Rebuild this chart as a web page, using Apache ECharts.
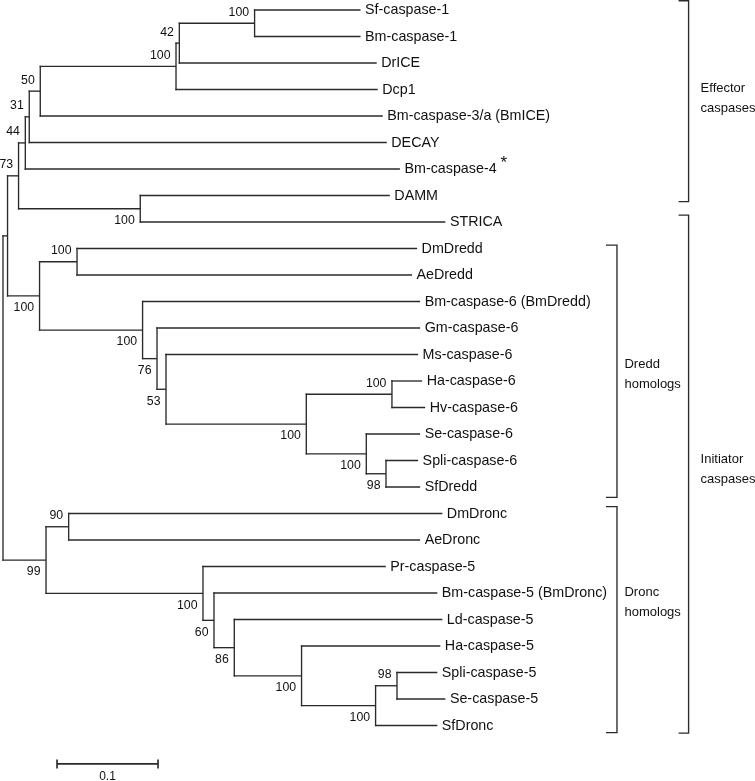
<!DOCTYPE html>
<html><head><meta charset="utf-8">
<script src="https://cdn.jsdelivr.net/npm/echarts@6/dist/echarts.min.js"></script>
<style>html,body{margin:0;padding:0;background:#fff}#c{width:755px;height:781px}</style>
</head><body><div id="c"></div>
<script>
// ---------------- data ----------------
const leafNames = ['Sf-caspase-1','Bm-caspase-1','DrICE','Dcp1','Bm-caspase-3/a (BmICE)','DECAY','Bm-caspase-4','DAMM','STRICA',
  'DmDredd','AeDredd','Bm-caspase-6 (BmDredd)','Gm-caspase-6','Ms-caspase-6','Ha-caspase-6','Hv-caspase-6','Se-caspase-6',
  'Spli-caspase-6','SfDredd','DmDronc','AeDronc','Pr-caspase-5','Bm-caspase-5 (BmDronc)','Ld-caspase-5','Ha-caspase-5',
  'Spli-caspase-5','Se-caspase-5','SfDronc'];
// distance of each leaf tip from the root (substitutions per site)
const leafDepth = [0.354,0.354,0.370,0.371,0.376,0.380,0.393,0.383,0.438,
  0.410,0.405,0.413,0.413,0.411,0.415,0.418,0.413,
  0.411,0.413,0.435,0.413,0.379,0.430,0.435,0.433,
  0.430,0.438,0.430];
const leafNote = ['','','','','','','*','','','','','','','','','','','','','','','','','','','','',''];

// internal nodes
const nodeNames = ['root','n1','n73','n44','n31','n50','n100c','n42','n100a','nDamm','nDredd','nDd','nB6','n76','n53',
  'nH','nHh','nS','nSp','nDronc','n90','nPr','n60','n86','nHa','nSf','n98'];
const nodeDepth = [0,0.0045,0.0154,0.0221,0.0260,0.0369,0.1713,0.1746,0.2491,0.1359,0.0362,0.0733,0.1382,0.1525,0.1614,
  0.3003,0.3851,0.3597,0.3792,0.0426,0.0650,0.1980,0.2089,0.2290,0.2956,0.3689,0.3901];
const nodeChildren = [['n1','nDronc'],['n73','nDredd'],['n44','nDamm'],['n31',6],['n50',5],['n100c',4],['n42',3],['n100a',2],[0,1],
  [7,8],['nDd','nB6'],[9,10],[11,'n76'],[12,'n53'],[13,'nH'],
  ['nHh','nS'],[14,15],[16,'nSp'],[17,18],['n90','nPr'],[19,20],[21,'n60'],[22,'n86'],[23,'nHa'],[24,'nSf'],['n98',27],[25,26]];
const nodeSupport = [null,null,73,44,31,50,100,42,100,100,100,100,100,76,53,100,100,100,98,99,90,100,60,86,100,100,98];

// clade brackets
const bracketLabels = ['Effector\ncaspases','Initiator\ncaspases','Dredd\nhomologs','Dronc\nhomologs'];
const bracketDepth = [0.6788,0.6788,0.6079,0.6079];
const bracketTop = [-0.35,7.74,8.87,18.74];
const bracketBottom = [7.23,27.29,18.39,27.27];
const bracketLabelRow = [3.33,17.33,13.77,22.35];

// scale bar
const scaleStart = 0.0535;
const scaleLength = 0.1;
const scaleRow = 28.45;
const scaleLabel = '0.1';

// ---------------- style (not data) ----------------
const supportBelow = [false,false,false,false,false,false,false,false,false,true,true,false,true,true,true,
  true,false,true,true,true,false,true,true,true,true,true,false];
const bracketTick = [10,10,11,11];
const bracketLabelGap = [12,12,7.5,7.5];
const LINE = '#2a2a2a', TEXT = '#111';
const FF = '"Liberation Sans", Arial, Helvetica, sans-serif';
const LW = 1.35;

// ---------------- build layout from tree ----------------
const idOf = {}; nodeNames.forEach((n,i)=> idOf[n]=i);
const ref = c => typeof c === 'number' ? {leaf:true,i:c} : {leaf:false,i:idOf[c]};
const leafParent = new Array(leafNames.length);
const nodeParent = new Array(nodeNames.length).fill(null);
nodeChildren.forEach((ch,i)=> ch.forEach(c=>{const r=ref(c); if(r.leaf) leafParent[r.i]=nodeDepth[i]; else nodeParent[r.i]=nodeDepth[i];}));
const nodeY = {};
function yOf(r){
  if (r.leaf) return r.i;
  if (nodeY[r.i] !== undefined) return nodeY[r.i];
  const ys = nodeChildren[r.i].map(ref).map(yOf);
  const y = (ys[0] + ys[ys.length-1]) / 2;
  nodeY[r.i] = y; return y;
}
const items = [];
leafNames.forEach((n,i)=> items.push({leaf:true, i, depth:leafDepth[i], y:i, parentDepth:leafParent[i]}));
nodeNames.forEach((n,i)=>{
  const ys = nodeChildren[i].map(ref).map(yOf);
  items.push({leaf:false, i, depth:nodeDepth[i], y:yOf({leaf:false,i}), parentDepth: nodeParent[i]===null? nodeDepth[i] : nodeParent[i],
    yTop: ys[0], yBot: ys[ys.length-1]});
});

function treeRender(params, api){
  const it = items[params.dataIndex];
  const pN = api.coord([it.depth, it.y]);
  const pP = api.coord([it.parentDepth, it.y]);
  const ls = {stroke: LINE, lineWidth: LW, fill: null};
  const kids = [];
  if (it.parentDepth !== it.depth)
    kids.push({type:'line', shape:{x1:pP[0]-LW/2, y1:pP[1], x2:pN[0], y2:pN[1]}, style: ls});
  if (it.leaf) {
    const note = leafNote[it.i];
    const txt = note ? '{n|' + leafNames[it.i] + '} {s|' + note + '}' : leafNames[it.i];
    kids.push({type:'text', style:{text: txt, x: pN[0]+4.5, y: pN[1]+0.5, fill: TEXT, fontSize: 14.3, fontFamily: FF,
      align:'left', verticalAlign:'middle', textAlign:'left', textVerticalAlign:'middle',
      rich: {n:{fontSize:14.3, fontFamily:FF, fill:TEXT}, s:{fontSize:17, fontFamily:FF, fill:TEXT, padding:[0,0,12,0]}}}});
  } else {
    const a = api.coord([it.depth, it.yTop]), b = api.coord([it.depth, it.yBot]);
    kids.push({type:'line', shape:{x1:a[0], y1:a[1]-LW/2, x2:b[0], y2:b[1]+LW/2}, style: ls});
    const s = nodeSupport[it.i];
    if (s !== null) {
      const below = supportBelow[it.i];
      kids.push({type:'text', style:{text: String(s), x: pN[0]-5.5, y: pN[1] + (below ? 12 : -11), fill: TEXT, fontSize: 12.3, fontFamily: FF,
        align:'right', verticalAlign:'middle', textAlign:'right', textVerticalAlign:'middle'}});
    }
  }
  return {type:'group', children: kids};
}

function bracketRender(params, api){
  const i = params.dataIndex;
  const a = api.coord([bracketDepth[i], bracketTop[i]]);
  const b = api.coord([bracketDepth[i], bracketBottom[i]]);
  const l = api.coord([bracketDepth[i], bracketLabelRow[i]]);
  const t = bracketTick[i];
  return {type:'group', children:[
    {type:'polyline', shape:{points:[[a[0]-t,a[1]],[a[0],a[1]],[b[0],b[1]],[b[0]-t,b[1]]]}, style:{stroke:LINE, lineWidth:LW, fill:null}},
    {type:'text', style:{text: bracketLabels[i], x: a[0]+bracketLabelGap[i], y: l[1], fill: TEXT, fontSize: 13, fontFamily: FF,
      lineHeight: 20, align:'left', verticalAlign:'middle', textAlign:'left', textVerticalAlign:'middle'}}
  ]};
}

function scaleRender(params, api){
  const a = api.coord([scaleStart, scaleRow]);
  const b = api.coord([scaleStart + scaleLength, scaleRow]);
  const ls = {stroke: LINE, lineWidth: LW + 0.3};
  return {type:'group', children:[
    {type:'line', shape:{x1:a[0], y1:a[1], x2:b[0], y2:b[1]}, style: ls},
    {type:'line', shape:{x1:a[0], y1:a[1]-4.5, x2:a[0], y2:a[1]+4.5}, style: ls},
    {type:'line', shape:{x1:b[0], y1:b[1]-4.5, x2:b[0], y2:b[1]+4.5}, style: ls},
    {type:'text', style:{text: scaleLabel, x:(a[0]+b[0])/2, y:a[1]+13, fill:TEXT, fontSize:12, fontFamily:FF,
      align:'center', verticalAlign:'middle', textAlign:'center', textVerticalAlign:'middle'}}
  ]};
}

const chart = echarts.init(document.getElementById('c'), null, {renderer:'canvas'});
chart.setOption({
  animation: false,
  backgroundColor: '#fff',
  grid: {left: 3, top: 10, width: 707, height: 715.5},
  xAxis: {type:'value', min:0, max:0.7, show:false},
  yAxis: {type:'value', min:0, max:27, inverse:true, show:false},
  series: [
    {type:'custom', name:'tree', silent:true, clip:false, renderItem: treeRender,
      data: items.map(it => [it.depth, it.y]), encode:{x:0, y:1}},
    {type:'custom', name:'brackets', silent:true, clip:false, renderItem: bracketRender,
      data: bracketLabels.map((_,i)=> [bracketDepth[i], bracketTop[i]]), encode:{x:0, y:1}},
    {type:'custom', name:'scale', silent:true, clip:false, renderItem: scaleRender,
      data: [[scaleStart, scaleRow]], encode:{x:0, y:1}}
  ]
});
</script>
</body></html>
